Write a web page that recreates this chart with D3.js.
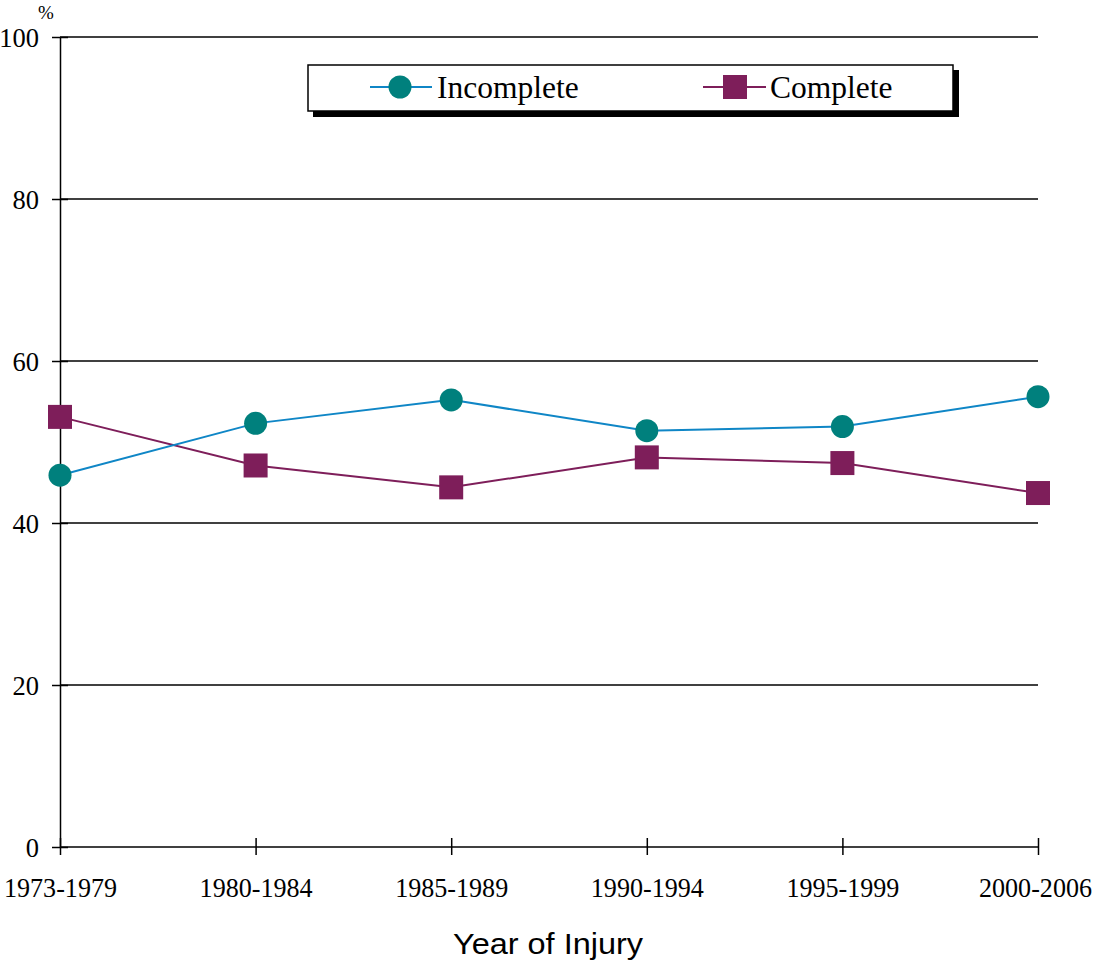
<!DOCTYPE html>
<html>
<head>
<meta charset="utf-8">
<script src="https://cdn.jsdelivr.net/npm/d3@7/dist/d3.min.js"></script>
<style>
  html, body { margin: 0; padding: 0; background: #fff; }
  svg { display: block; }
</style>
</head>
<body>
<svg id="chart" width="1094" height="961"></svg>
<script>
// Share of injuries by neurological completeness, per period of injury
const periods = ["1973-1979", "1980-1984", "1985-1989", "1990-1994", "1995-1999", "2000-2006"];
const incomplete = [45.9, 52.3, 55.2, 51.4, 51.9, 55.6];
const complete = [53.1, 47.1, 44.4, 48.1, 47.4, 43.7];
const yTicks = [0, 20, 40, 60, 80, 100];
const seriesNames = ["Incomplete", "Complete"];

const svg = d3.select("#chart");
const plotLeft = 60, plotRight = 1038, plotTop = 37, plotBottom = 847;

const x = d3.scalePoint().domain(periods).range([plotLeft, plotRight]);
const y = d3.scaleLinear().domain([0, 100]).range([plotBottom, plotTop]);

const serif = "'Liberation Serif', 'Times New Roman', serif";
const sans = "'Liberation Sans', Arial, sans-serif";

// Horizontal gridlines
svg.append("g").selectAll("line").data(yTicks.filter(d => d > 0)).join("line")
  .attr("x1", plotLeft).attr("x2", plotRight)
  .attr("y1", d => y(d)).attr("y2", d => y(d))
  .attr("stroke", "#000").attr("stroke-width", 1.5);

// Y axis
const yAxis = svg.append("g")
  .attr("transform", `translate(${plotLeft},0)`)
  .call(d3.axisLeft(y).tickValues(yTicks).tickSize(8).tickPadding(14).tickSizeOuter(0));
yAxis.attr("font-family", serif).attr("font-size", 26.5);
yAxis.select(".domain").attr("stroke-width", 1.5);
yAxis.selectAll(".tick line").attr("x2", -8).attr("x1", 8).attr("stroke-width", 1.5);
yAxis.selectAll(".tick text")
  .attr("fill", "#000").attr("x", -21).attr("dy", "0.34em");

// X axis
const xAxis = svg.append("g")
  .attr("transform", `translate(0,${plotBottom})`)
  .call(d3.axisBottom(x).tickSize(8).tickPadding(22).tickSizeOuter(0));
xAxis.attr("font-family", serif).attr("font-size", 26.5);
xAxis.select(".domain").attr("stroke-width", 1.5)
  .attr("d", `M${plotLeft},0H${plotRight}`);
xAxis.selectAll(".tick line").attr("y1", -9).attr("y2", 8).attr("stroke-width", 1.5);
xAxis.selectAll(".tick text").attr("fill", "#000")
  .attr("y", 50).attr("dy", 0)
  .attr("textLength", 113).attr("lengthAdjust", "spacingAndGlyphs")
  .attr("dx", (d, i) => i === periods.length - 1 ? -3 : 0);

// Percent unit label
svg.append("text").attr("x", 46).attr("y", 19).attr("text-anchor", "middle")
  .attr("font-family", serif).attr("font-size", 19).text("%");

// X axis title
svg.append("text").attr("x", 548).attr("y", 954).attr("text-anchor", "middle")
  .attr("font-family", sans).attr("font-size", 30)
  .attr("textLength", 190).attr("lengthAdjust", "spacingAndGlyphs")
  .text("Year of Injury");

const lineGen = d3.line().x((d, i) => x(periods[i])).y(d => y(d));

const incColor = "#0f86c6", incMarker = "#00807d";
const compColor = "#7e1e5a";

// Series lines
svg.append("path").datum(complete).attr("d", lineGen)
  .attr("fill", "none").attr("stroke", compColor).attr("stroke-width", 2);
svg.append("path").datum(incomplete).attr("d", lineGen)
  .attr("fill", "none").attr("stroke", incColor).attr("stroke-width", 2);

// Markers
svg.append("g").selectAll("circle").data(incomplete).join("circle")
  .attr("cx", (d, i) => x(periods[i])).attr("cy", d => y(d)).attr("r", 11.5)
  .attr("fill", incMarker);
svg.append("g").selectAll("rect").data(complete).join("rect")
  .attr("x", (d, i) => x(periods[i]) - 12).attr("y", d => y(d) - 12)
  .attr("width", 24).attr("height", 24).attr("fill", compColor);

// Legend box with drop shadow
const lg = svg.append("g");
lg.append("rect").attr("x", 313).attr("y", 70).attr("width", 646).attr("height", 47).attr("fill", "#000");
lg.append("rect").attr("x", 308).attr("y", 65).attr("width", 645).attr("height", 46)
  .attr("fill", "#fff").attr("stroke", "#000").attr("stroke-width", 1.5);

// Legend: Incomplete
lg.append("line").attr("x1", 370).attr("x2", 432).attr("y1", 87).attr("y2", 87)
  .attr("stroke", incColor).attr("stroke-width", 2);
lg.append("circle").attr("cx", 400).attr("cy", 87).attr("r", 11.5).attr("fill", incMarker);
lg.append("text").attr("x", 437).attr("y", 98).attr("font-family", serif).attr("font-size", 31.5)
  .text(seriesNames[0]);

// Legend: Complete
lg.append("line").attr("x1", 703).attr("x2", 766).attr("y1", 87).attr("y2", 87)
  .attr("stroke", compColor).attr("stroke-width", 2);
lg.append("rect").attr("x", 723).attr("y", 75).attr("width", 24).attr("height", 24).attr("fill", compColor);
lg.append("text").attr("x", 770).attr("y", 98).attr("font-family", serif).attr("font-size", 31.5)
  .text(seriesNames[1]);
</script>
</body>
</html>
